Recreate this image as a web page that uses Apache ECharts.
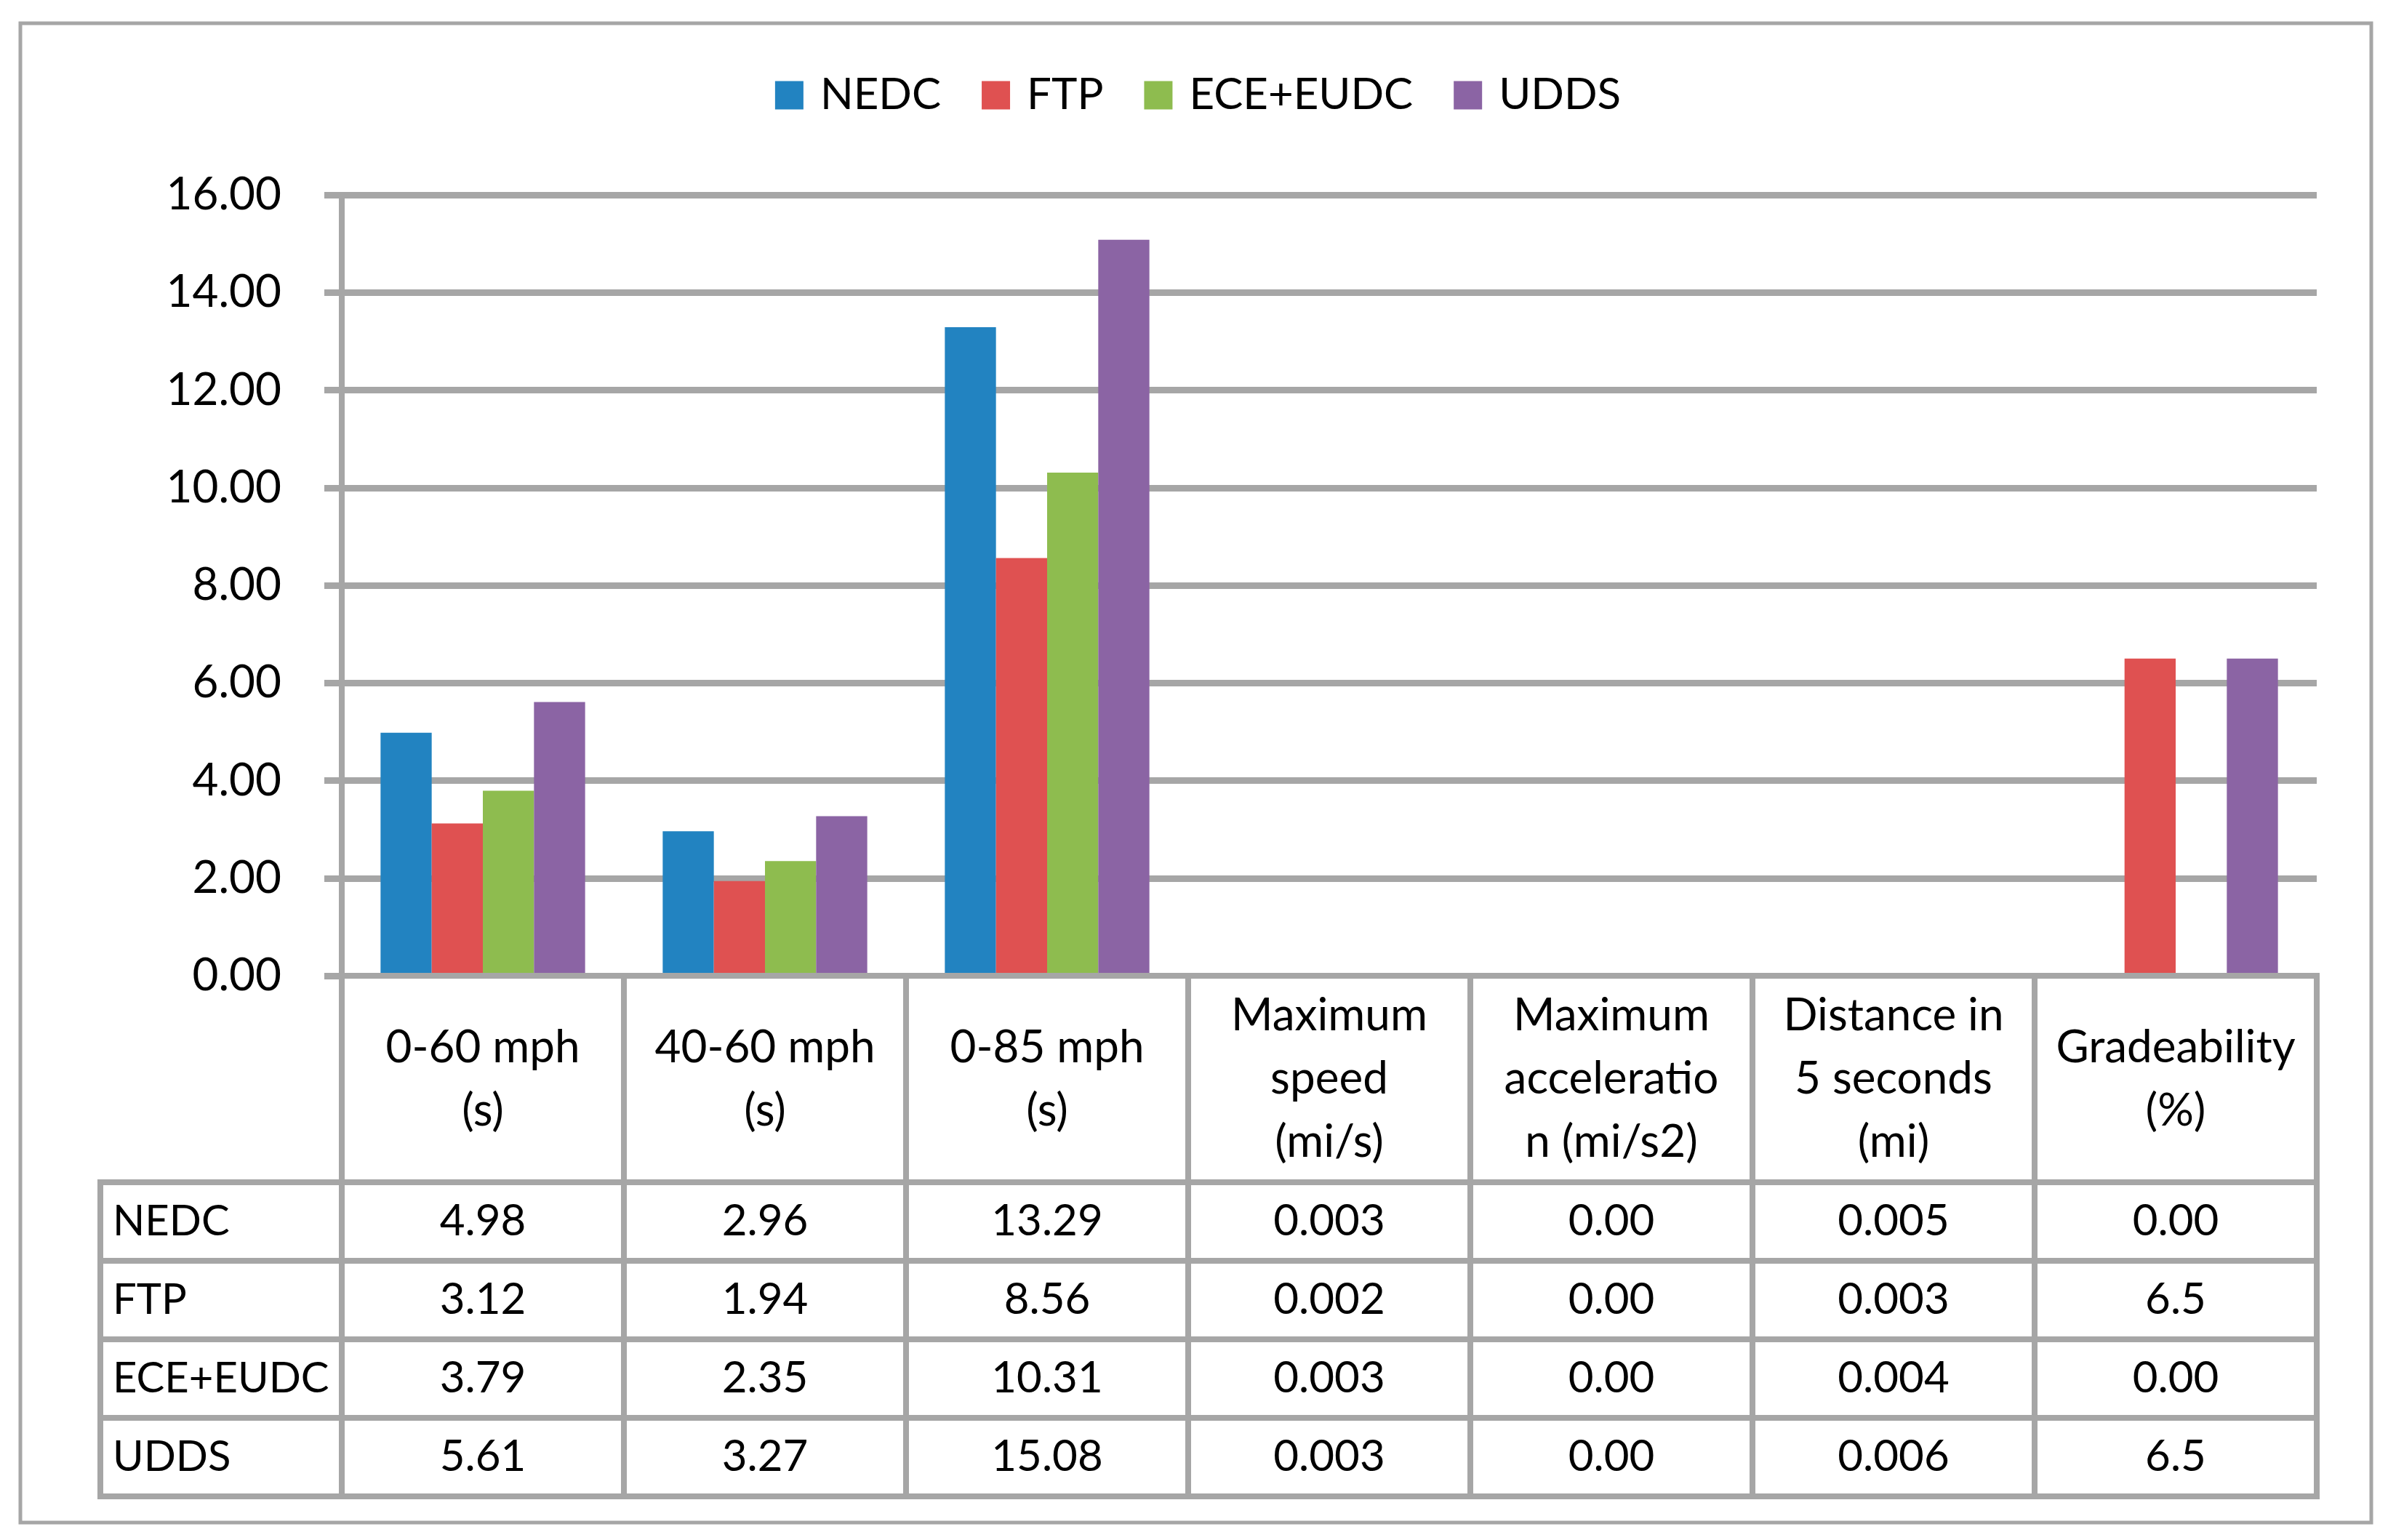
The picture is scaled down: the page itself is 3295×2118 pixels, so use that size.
<!DOCTYPE html>
<html>
<head>
<meta charset="utf-8">
<script src="https://cdn.jsdelivr.net/npm/echarts@6/dist/echarts.min.js"></script>
<style>
html,body{margin:0;padding:0;background:#fff;}
#chart{width:3295px;height:2118px;}
</style>
</head>
<body>
<div id="chart"></div>
<script>
// ---- data ----
const categories = [
  '0-60 mph\n(s)',
  '40-60 mph\n(s)',
  '0-85 mph\n(s)',
  'Maximum\nspeed\n(mi/s)',
  'Maximum\nacceleratio\nn (mi/s2)',
  'Distance in\n5 seconds\n(mi)',
  'Gradeability\n(%)'
];
const seriesNames = ['NEDC', 'FTP', 'ECE+EUDC', 'UDDS'];
const NEDC = ['4.98', '2.96', '13.29', '0.003', '0.00', '0.005', '0.00'];
const FTP  = ['3.12', '1.94', '8.56',  '0.002', '0.00', '0.003', '6.5'];
const ECE_EUDC = ['3.79', '2.35', '10.31', '0.003', '0.00', '0.004', '0.00'];
const UDDS = ['5.61', '3.27', '15.08', '0.003', '0.00', '0.006', '6.5'];
const yTicks = { min: 0, max: 16, interval: 2 };
const colors = ['#2283c1', '#df5151', '#8ebc4f', '#8b64a4'];

const rows = [NEDC, FTP, ECE_EUDC, UDDS];

// ---- layout / style ----
const FONT = 'Lato';
const FS = 60;
const HFS = 62;
const LFS = 58;
const GRAY = '#a6a6a6';
const LW = 8;
const plotLeft = 470, plotWidth = 2716;
const plotTop = 268, plotBottom = 1342;
const headerBottom = 1626, tableBottom = 2058;
const labelLeft = 138;

const chart = echarts.init(document.getElementById('chart'), null, {renderer: 'canvas'});

function cellRect(api) {
  const c = api.coord([api.value(0), api.value(1)]);
  const s = api.size([1, 1]);
  return { x: c[0] - s[0] / 2, y: c[1] - s[1] / 2, width: s[0], height: s[1] };
}

const headerData = categories.map((c, i) => [i, 0]);
const bodyData = [];
rows.forEach((r, ri) => r.forEach((v, ci) => bodyData.push([ci, ri])));
const labelData = seriesNames.map((n, ri) => [0, ri]);

const option = {
  animation: false,
  backgroundColor: '#fff',
  color: colors,
  textStyle: { fontFamily: FONT },
  legend: {
    data: seriesNames,
    top: 101,
    left: 'center',
    padding: 0,
    icon: 'rect',
    itemWidth: 39,
    itemHeight: 39,
    itemGap: 56,
    textStyle: { fontFamily: FONT, fontSize: FS, color: '#000', padding: [0, 0, 0, 18], lineHeight: 60 }
  },
  grid: [
    { left: plotLeft, width: plotWidth, top: plotTop, height: plotBottom - plotTop },
    { left: plotLeft, width: plotWidth, top: plotBottom, height: headerBottom - plotBottom },
    { left: plotLeft, width: plotWidth, top: headerBottom, height: tableBottom - headerBottom },
    { left: labelLeft, width: plotLeft - labelLeft, top: headerBottom, height: tableBottom - headerBottom }
  ],
  xAxis: [
    { gridIndex: 0, type: 'category', data: categories,
      axisLine: { show: true, lineStyle: { color: GRAY, width: LW } },
      axisTick: { show: false }, axisLabel: { show: false }, splitLine: { show: false } },
    { gridIndex: 1, type: 'category', data: categories, show: false },
    { gridIndex: 2, type: 'category', data: categories, show: false },
    { gridIndex: 3, type: 'category', data: ['label'], show: false }
  ],
  yAxis: [
    { gridIndex: 0, type: 'value', min: yTicks.min, max: yTicks.max, interval: yTicks.interval,
      axisLine: { show: true, lineStyle: { color: GRAY, width: LW } },
      axisTick: { show: true, length: 24, lineStyle: { color: GRAY, width: 9 } },
      axisLabel: { fontFamily: FONT, fontSize: 62, color: '#000', margin: 83,
        formatter: v => v.toFixed(2) },
      splitLine: { show: true, lineStyle: { color: GRAY, width: 9 } } },
    { gridIndex: 1, type: 'category', data: ['header'], show: false },
    { gridIndex: 2, type: 'category', data: seriesNames, inverse: true, show: false },
    { gridIndex: 3, type: 'category', data: seriesNames, inverse: true, show: false }
  ],
  series: [
    ...seriesNames.map((name, si) => ({
      name: name,
      type: 'bar',
      xAxisIndex: 0, yAxisIndex: 0,
      data: rows[si].map(Number),
      barGap: '0%',
      barCategoryGap: '27.5%',
      itemStyle: { color: colors[si] },
      z: 1
    })),
    {
      type: 'custom', xAxisIndex: 1, yAxisIndex: 1, data: headerData, z: 3,
      renderItem: function (params, api) {
        const r = cellRect(api);
        const col = api.value(0);
        return { type: 'group', children: [
          { type: 'rect', shape: r, style: { fill: '#fff', stroke: GRAY, lineWidth: LW } },
          { type: 'text', style: { text: categories[col], x: r.x + r.width / 2, y: r.y + r.height / 2,
            align: 'center', verticalAlign: 'middle', textAlign: 'center', textVerticalAlign: 'middle',
            font: HFS + 'px ' + FONT, fill: '#000', lineHeight: 87 } }
        ]};
      }
    },
    {
      type: 'custom', xAxisIndex: 2, yAxisIndex: 2, data: bodyData, z: 3,
      renderItem: function (params, api) {
        const r = cellRect(api);
        const col = api.value(0), row = api.value(1);
        return { type: 'group', children: [
          { type: 'rect', shape: r, style: { fill: '#fff', stroke: GRAY, lineWidth: LW } },
          { type: 'text', style: { text: rows[row][col], x: r.x + r.width / 2, y: r.y + r.height / 2,
            align: 'center', verticalAlign: 'middle', textAlign: 'center', textVerticalAlign: 'middle',
            font: FS + 'px ' + FONT, fill: '#000' } }
        ]};
      }
    },
    {
      type: 'custom', xAxisIndex: 3, yAxisIndex: 3, data: labelData, z: 3,
      renderItem: function (params, api) {
        const r = cellRect(api);
        const row = api.value(1);
        return { type: 'group', children: [
          { type: 'rect', shape: r, style: { fill: '#fff', stroke: GRAY, lineWidth: LW } },
          { type: 'text', style: { text: seriesNames[row], x: r.x + 17, y: r.y + r.height / 2,
            align: 'left', verticalAlign: 'middle', textAlign: 'left', textVerticalAlign: 'middle',
            font: LFS + 'px ' + FONT, fill: '#000' } }
        ]};
      }
    }
  ],
  graphic: [
    { type: 'rect', shape: { x: 28, y: 32, width: 3233, height: 2062 },
      style: { fill: 'transparent', stroke: GRAY, lineWidth: 5 }, silent: true, z: 10 }
  ]
};
chart.setOption(option);
</script>
</body>
</html>
